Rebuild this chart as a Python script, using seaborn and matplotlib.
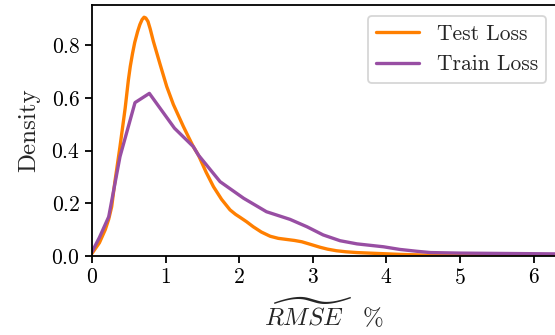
import matplotlib
matplotlib.use("Agg")
import matplotlib.pyplot as plt
import seaborn as sns
import pandas as pd

# Estimated density curves of the RMSE (%) for the two loss sets
test_x = [0.0, 0.1, 0.18, 0.227, 0.267, 0.31, 0.38, 0.45, 0.494, 0.52, 0.55,
          0.58, 0.62, 0.65, 0.68, 0.707, 0.73, 0.76, 0.79, 0.833, 0.88, 0.924,
          0.97, 1.015, 1.105, 1.17, 1.24, 1.31, 1.376, 1.445, 1.55, 1.65, 1.76,
          1.875, 1.95, 2.01, 2.1, 2.19, 2.3, 2.42, 2.53, 2.64, 2.75, 2.85, 2.97,
          3.1, 3.2, 3.32, 3.45, 3.6, 3.85, 4.2, 4.6, 5.0, 6.32]
test_y = [0.01, 0.05, 0.1, 0.14, 0.187, 0.28, 0.415, 0.56, 0.668, 0.72, 0.768,
          0.81, 0.852, 0.878, 0.897, 0.906, 0.903, 0.89, 0.862, 0.815, 0.77,
          0.728, 0.685, 0.643, 0.575, 0.535, 0.492, 0.452, 0.415, 0.383, 0.318,
          0.263, 0.215, 0.175, 0.158, 0.147, 0.13, 0.111, 0.091, 0.075, 0.067,
          0.063, 0.059, 0.054, 0.044, 0.033, 0.026, 0.020, 0.016, 0.013, 0.010,
          0.006, 0.003, 0.002, 0.0]

train_x = [0.0, 0.1, 0.227, 0.38, 0.584, 0.779, 1.12, 1.376, 1.445, 1.74, 2.06,
           2.37, 2.69, 2.92, 3.14, 3.37, 3.60, 3.96, 4.18, 4.41, 4.6, 5.0, 6.32]
train_y = [0.016, 0.07, 0.149, 0.377, 0.582, 0.617, 0.485, 0.415, 0.383, 0.282,
           0.219, 0.168, 0.139, 0.111, 0.080, 0.058, 0.046, 0.035, 0.025, 0.018,
           0.013, 0.011, 0.008]

series_names = ["Test Loss", "Train Loss"]
series_colors = ["#ff7f00", "#984ea3"]

sns.set_style("ticks")
plt.rcParams.update({
    "font.family": "serif",
    "font.serif": ["cmr10"],
    "mathtext.fontset": "cm",
    "axes.formatter.use_mathtext": True,
    "font.size": 15.5,
    "axes.linewidth": 1.3,
    "xtick.major.width": 1.3,
    "ytick.major.width": 1.3,
    "xtick.major.size": 5,
    "ytick.major.size": 5,
    "xtick.color": "black",
    "ytick.color": "black",
    "axes.edgecolor": "black",
    "lines.solid_capstyle": "round",
    "lines.solid_joinstyle": "round",
})

fig = plt.figure(figsize=(5.55, 3.35), dpi=100)
ax = fig.add_axes([0.1658, 0.2358, 0.8382, 0.749])

test_df = pd.DataFrame({"x": test_x, "y": test_y})
train_df = pd.DataFrame({"x": train_x, "y": train_y})

sns.lineplot(data=test_df, x="x", y="y", ax=ax, color=series_colors[0],
             linewidth=2.4, label=series_names[0])
sns.lineplot(data=train_df, x="x", y="y", ax=ax, color=series_colors[1],
             linewidth=2.4, label=series_names[1])

ax.set_xlim(0, 6.32)
ax.set_ylim(0, 0.952)
ax.set_xticks([0, 1, 2, 3, 4, 5, 6])
ax.set_yticks([0.0, 0.2, 0.4, 0.6, 0.8])
ax.set_xlabel(r"$\widetilde{RMSE}\quad\%$", fontsize=18, labelpad=6)
ax.set_ylabel("Density", fontsize=18, labelpad=8)
ax.tick_params(labelsize=15.5)

leg = ax.legend(loc="upper right", fontsize=15.5, frameon=True,
                borderaxespad=0.5)
leg.get_frame().set_edgecolor("#cccccc")
leg.get_frame().set_linewidth(1.3)

fig.savefig("out.png", dpi=100)
